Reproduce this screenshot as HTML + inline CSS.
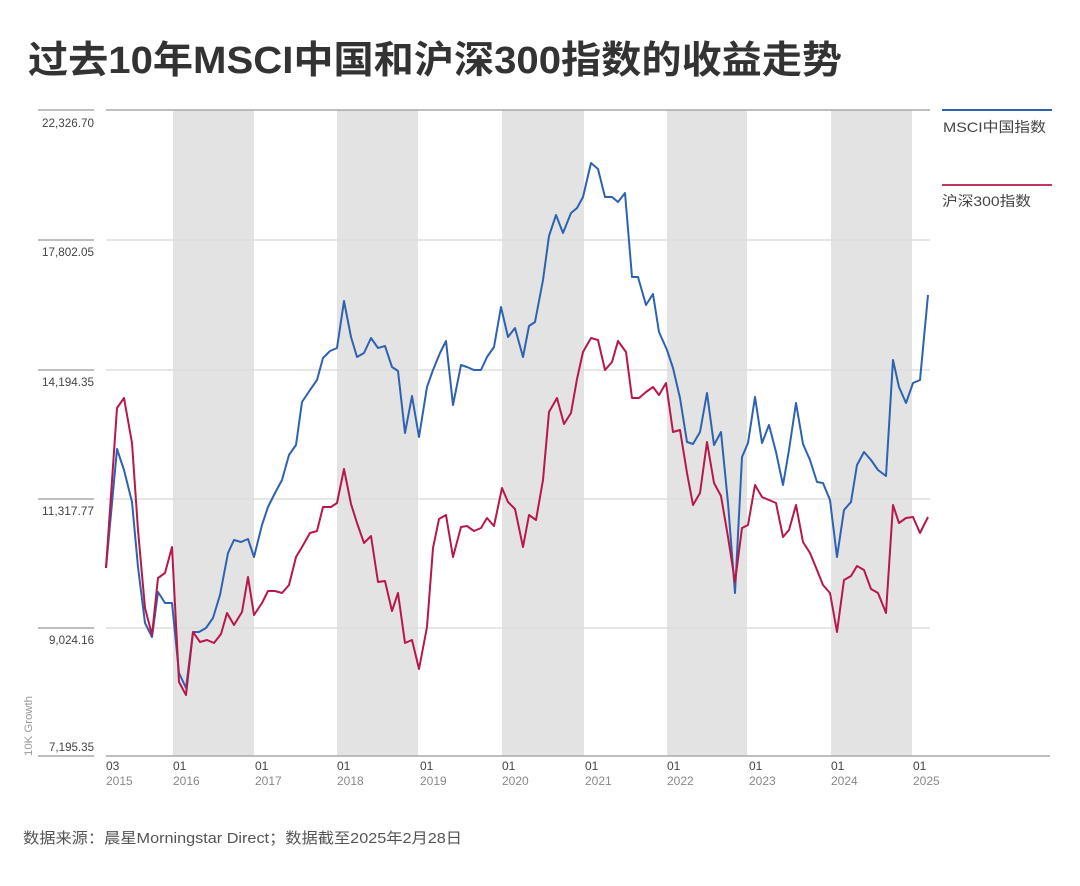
<!DOCTYPE html>
<html><head><meta charset="utf-8"><style>
body{margin:0;background:#fff;width:1080px;height:881px;overflow:hidden;font-family:"Liberation Sans","Noto Sans CJK SC",sans-serif;}
</style></head><body>
<svg width="1080" height="881" xmlns="http://www.w3.org/2000/svg">
<text x="28" y="73" font-family="Liberation Sans,Noto Sans CJK SC,sans-serif" font-size="38" font-weight="bold" fill="#333" textLength="814" lengthAdjust="spacingAndGlyphs">过去10年MSCI中国和沪深300指数的收益走势</text>
<g fill="#e3e3e3">
<rect x="173" y="110" width="81" height="646"/><rect x="337" y="110" width="81" height="646"/>
<rect x="502" y="110" width="82" height="646"/><rect x="667" y="110" width="80" height="646"/>
<rect x="831" y="110" width="81" height="646"/></g>
<g stroke="#ddd" stroke-width="1.5">
<line x1="106" x2="930" y1="240" y2="240"/><line x1="106" x2="930" y1="370" y2="370"/>
<line x1="106" x2="930" y1="499" y2="499"/><line x1="106" x2="930" y1="628" y2="628"/></g>
<g stroke="#aaa" stroke-width="1.5">
<line x1="106" x2="930" y1="110" y2="110"/><line x1="106" x2="1050" y1="756" y2="756"/>
<line x1="38" x2="94" y1="110" y2="110"/><line x1="38" x2="94" y1="240" y2="240"/>
<line x1="38" x2="94" y1="370" y2="370"/><line x1="38" x2="94" y1="499" y2="499"/>
<line x1="38" x2="94" y1="628" y2="628"/><line x1="38" x2="94" y1="756" y2="756"/></g>
<g font-family="Liberation Sans,sans-serif" font-size="12" fill="#444" text-anchor="end">
<text x="94" y="127" textLength="52" lengthAdjust="spacingAndGlyphs">22,326.70</text><text x="94" y="256" textLength="52" lengthAdjust="spacingAndGlyphs">17,802.05</text>
<text x="94" y="386" textLength="52" lengthAdjust="spacingAndGlyphs">14,194.35</text><text x="94" y="515" textLength="52" lengthAdjust="spacingAndGlyphs">11,317.77</text>
<text x="94" y="644" textLength="45" lengthAdjust="spacingAndGlyphs">9,024.16</text><text x="94" y="751" textLength="45" lengthAdjust="spacingAndGlyphs">7,195.35</text></g>
<text transform="translate(32,756) rotate(-90)" font-family="Liberation Sans,sans-serif" font-size="11" fill="#999" textLength="60" lengthAdjust="spacingAndGlyphs">10K Growth</text>
<g font-family="Liberation Sans,sans-serif" font-size="12">
<g fill="#444"><text x="106" y="770">03</text><text x="173" y="770">01</text><text x="255" y="770">01</text><text x="337" y="770">01</text><text x="420" y="770">01</text><text x="502" y="770">01</text><text x="585" y="770">01</text><text x="667" y="770">01</text><text x="749" y="770">01</text><text x="831" y="770">01</text><text x="913" y="770">01</text></g>
<g fill="#888"><text x="106" y="785">2015</text><text x="173" y="785">2016</text><text x="255" y="785">2017</text><text x="337" y="785">2018</text><text x="420" y="785">2019</text><text x="502" y="785">2020</text><text x="585" y="785">2021</text><text x="667" y="785">2022</text><text x="749" y="785">2023</text><text x="831" y="785">2024</text><text x="913" y="785">2025</text></g></g>
<polyline fill="none" stroke="#2e62b0" stroke-width="2" stroke-linejoin="round" points="106,568 117,449 124,470 132,502 138,567 145,623 152,637 158,592 165,603 172,603 179,673 186,688 193,632 199,632 206,628 213,618 220,595 228,553 234,540 241,542 248,539 254,557 262,525 268,507 275,493 282,480 289,455 296,445 302,402 310,390 317,380 323,358 330,351 337,348 344,301 351,337 357,357 364,353 371,338 378,348 385,346 392,367 398,371 405,433 412,396 419,437 427,387 433,370 440,353 446,341 453,405 461,365 467,367 474,370 481,370 487,357 494,347 501,307 508,337 515,328 523,357 529,326 535,322 543,280 549,236 556,215 563,233 571,213 577,208 583,197 591,163 598,169 605,197 612,197 618,202 625,193 632,277 638,277 646,305 653,294 659,332 667,350 673,368 680,398 687,442 693,444 700,432 707,393 714,445 721,432 728,503 735,593 742,457 748,443 755,397 762,443 769,425 776,452 783,485 789,450 796,403 803,444 810,460 817,482 823,483 830,500 837,557 844,510 851,502 857,465 864,452 871,460 878,470 886,476 893,360 899,387 906,403 913,383 920,380 928,295"/>
<polyline fill="none" stroke="#b8174a" stroke-width="2" stroke-linejoin="round" points="106,568 117,408 124,398 132,443 138,530 145,608 152,635 158,578 165,573 172,547 179,682 186,695 193,632 200,642 207,640 214,643 221,634 227,613 234,625 242,612 248,577 254,615 262,603 268,591 275,591 282,593 289,585 296,557 302,547 310,533 317,531 323,507 331,507 337,503 344,469 351,504 357,523 364,543 371,536 378,582 385,581 392,611 398,593 405,643 412,640 419,669 427,627 433,548 439,519 446,515 453,557 461,527 467,526 474,531 481,528 487,518 494,526 502,488 508,502 515,509 523,547 529,515 536,520 543,480 549,412 557,398 564,424 571,413 577,379 583,352 591,338 598,340 605,370 612,362 618,341 626,352 632,398 639,398 646,392 653,387 659,395 666,383 673,432 680,430 687,473 693,505 700,493 707,442 714,483 721,496 728,537 735,582 742,528 748,525 755,485 762,497 769,500 776,503 783,537 789,530 796,505 803,542 810,553 817,570 823,585 830,593 837,632 844,580 851,576 857,566 864,570 871,589 878,593 886,613 893,505 899,523 906,518 913,517 920,533 928,517"/>
<line x1="942" x2="1052" y1="110" y2="110" stroke="#2e62b0" stroke-width="2"/>
<line x1="942" x2="1052" y1="185" y2="185" stroke="#c0385f" stroke-width="2"/>
<g font-family="Liberation Sans,Noto Sans CJK SC,sans-serif" font-size="14" fill="#444">
<text x="943" y="132" textLength="103" lengthAdjust="spacingAndGlyphs">MSCI中国指数</text><text x="942" y="206" textLength="89" lengthAdjust="spacingAndGlyphs">沪深300指数</text></g>
<text x="23" y="843" font-family="Liberation Sans,Noto Sans CJK SC,sans-serif" font-size="15" fill="#555" textLength="439" lengthAdjust="spacingAndGlyphs">数据来源：晨星Morningstar Direct；数据截至2025年2月28日</text>
</svg>
</body></html>
